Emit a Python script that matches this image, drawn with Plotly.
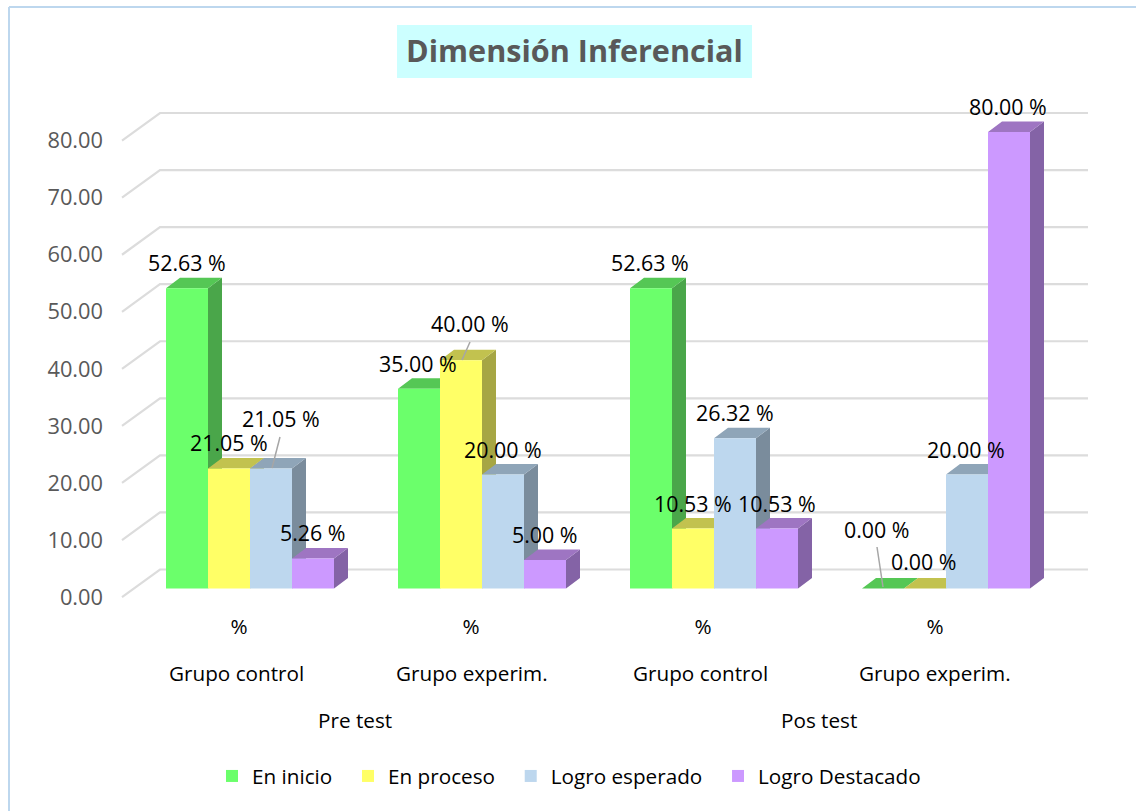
import plotly.graph_objects as go

# ---- data ----
series_names = ["En inicio", "En proceso", "Logro esperado", "Logro Destacado"]
en_inicio = [52.63, 35.00, 52.63, 0.00]
en_proceso = [21.05, 40.00, 10.53, 0.00]
logro_esperado = [21.05, 20.00, 26.32, 20.00]
logro_destacado = [5.26, 5.00, 10.53, 80.00]
unit_labels = ["%", "%", "%", "%"]
group_labels = ["Grupo control", "Grupo experim.", "Grupo control", "Grupo experim."]
phase_labels = ["Pre test", "Pos test"]
y_ticks = [0, 10, 20, 30, 40, 50, 60, 70, 80]
title_text = "Dimensión Inferencial"

# ---- style ----
front_colors = ["#6BFF6B", "#FFFF66", "#BDD7EE", "#CC99FF"]
top_colors = ["#55C755", "#C2C24F", "#8FA5B8", "#9E75C2"]
side_colors = ["#4AA64A", "#A6A644", "#7A8C9C", "#8463A6"]
all_values = [en_inicio, en_proceso, logro_esperado, logro_destacado]
FONT = "Open Sans"
TXT = 20.7
LABEL_TXT = 21.4
W, H = 1136, 811
L, R, T, B = 118, 1100, 90, 610        # plot area in page pixels
X0, SX = 250.0, 232.0                  # page x of first group centre, px per group
Y0, SY = 588.5, 5.706                  # page y of value 0 on bar plane, px per unit
BAR_W = 42 / SX
DX, DY = 14 / SX, 10.5 / SY            # bar depth in axis units


def ax(px):
    return (px - X0) / SX


def ay(py):
    return (Y0 - py) / SY


label_px = [  # centre of each data label on the page
    [(187, 262), (229, 442), (281, 418), (313, 532)],
    [(418, 363), (470, 323), (503, 449), (545, 534)],
    [(650, 262), (693, 503), (735, 412), (777, 503)],
    [(877, 529), (924, 561), (966, 449), (1008, 106)],
]
leaders_px = [((280, 437), (272, 468)), ((470, 342), (462, 360)), ((877, 547), (883, 587))]

fig = go.Figure()

# gridlines: front edge -> back wall -> right end
gx, gy = [], []
for v in y_ticks:
    gx += [ax(122), ax(160), ax(1088), None]
    gy += [v - 8.6 / SY, v + 19 / SY, v + 19 / SY, None]
fig.add_trace(go.Scatter(x=gx, y=gy, mode="lines", line=dict(color="#DCDCDC", width=2.2),
                         hoverinfo="skip", showlegend=False, zorder=-1))

for s, (name, vals) in enumerate(zip(series_names, all_values)):
    xs = [g + (s - 1.5) * BAR_W for g in range(len(vals))]
    tx, ty, sx, sy = [], [], [], []
    for x, v in zip(xs, vals):
        a, b = x - BAR_W / 2, x + BAR_W / 2
        tx += [a, b, b + DX, a + DX, a, None]
        ty += [v, v, v + DY, v + DY, v, None]
        sx += [b, b + DX, b + DX, b, b, None]
        sy += [0, DY, v + DY, v, 0, None]
    fig.add_trace(go.Scatter(x=sx, y=sy, mode="lines", fill="toself", fillcolor=side_colors[s],
                             line=dict(width=0), hoverinfo="skip", showlegend=False, zorder=3 * s))
    fig.add_trace(go.Scatter(x=tx, y=ty, mode="lines", fill="toself", fillcolor=top_colors[s],
                             line=dict(width=0), hoverinfo="skip", showlegend=False, zorder=3 * s + 1))
    fig.add_trace(go.Bar(x=xs, y=vals, width=BAR_W, name=name + "\u00a0\u00a0",
                         marker=dict(color=front_colors[s], line=dict(width=0)), zorder=3 * s + 2))

# leader lines
lx, ly = [], []
for p, q in leaders_px:
    lx += [ax(p[0]), ax(q[0]), None]
    ly += [ay(p[1]), ay(q[1]), None]
fig.add_trace(go.Scatter(x=lx, y=ly, mode="lines", line=dict(color="#A6A6A6", width=1.5),
                         hoverinfo="skip", showlegend=False, zorder=20))

annotations = []
for g in range(4):
    for s in range(4):
        px, py = label_px[g][s]
        annotations.append(dict(x=ax(px), y=ay(py), xref="x", yref="y", showarrow=False,
                                text=f"{all_values[s][g]:.2f} %", xanchor="center", yanchor="middle",
                                font=dict(family=FONT, size=LABEL_TXT, color="#000000")))
for px, txt in zip([236.5, 471.5, 700, 934.5], group_labels):
    annotations.append(dict(x=ax(px), y=1 - 673 / H, xref="x", yref="paper", showarrow=False, text=txt,
                            xanchor="center", yanchor="middle", font=dict(family=FONT, size=TXT, color="#000000")))
for px, txt in zip([355, 819], phase_labels):
    annotations.append(dict(x=ax(px), y=1 - 720 / H, xref="x", yref="paper", showarrow=False, text=txt,
                            xanchor="center", yanchor="middle", font=dict(family=FONT, size=TXT, color="#000000")))

shapes = [
    dict(type="rect", xref="paper", yref="paper", x0=397 / W, x1=752 / W, y0=1 - 78 / H, y1=1 - 25 / H,
         fillcolor="#CCFFFF", line=dict(width=0), layer="below"),
    dict(type="line", xref="paper", yref="paper", x0=9 / W, x1=1.01, y0=1 - 7 / H, y1=1 - 7 / H,
         line=dict(color="#BDD7EE", width=2)),
    dict(type="line", xref="paper", yref="paper", x0=9 / W, x1=9 / W, y0=1 - 7 / H, y1=-0.01,
         line=dict(color="#BDD7EE", width=2)),
]

fig.update_layout(
    width=W, height=H, margin=dict(l=0, r=0, t=0, b=0, pad=0, autoexpand=False),
    paper_bgcolor="white", plot_bgcolor="rgba(0,0,0,0)",
    barmode="overlay", showlegend=True, annotations=annotations, shapes=shapes,
    title=dict(text=f"<b>{title_text}</b>", x=574.5 / W, xanchor="center", xref="paper",
               y=1 - 51 / H, yanchor="middle", yref="paper",
               font=dict(family=FONT, size=30.6, color="#595959")),
    legend=dict(orientation="h", x=212 / W, xanchor="left", y=1 - 776 / H, yanchor="middle",
                font=dict(family=FONT, size=TXT, color="#000000"), traceorder="normal",
                bgcolor="rgba(0,0,0,0)"),
    font=dict(family=FONT),
    xaxis=dict(domain=[L / W, R / W], range=[ax(L), ax(R)], showgrid=False, zeroline=False, showline=False,
               tickmode="array", tickvals=[g - 11 / SX for g in range(4)], ticktext=unit_labels,
               ticks="", tickfont=dict(family=FONT, size=TXT, color="#000000"), ticklabelstandoff=2),
    yaxis=dict(domain=[1 - B / H, 1 - T / H], range=[ay(B), ay(T)], showgrid=False, zeroline=False, showline=False,
               tickmode="array", tickvals=[v - 8.6 / SY for v in y_ticks], ticktext=[f"{v:.2f}" for v in y_ticks],
               ticks="", tickfont=dict(family=FONT, size=21.8, color="#595959"), ticklabelstandoff=14),
)
fig.write_html("out.html", post_script="document.body.style.margin='0';", config=dict(displayModeBar=False))
